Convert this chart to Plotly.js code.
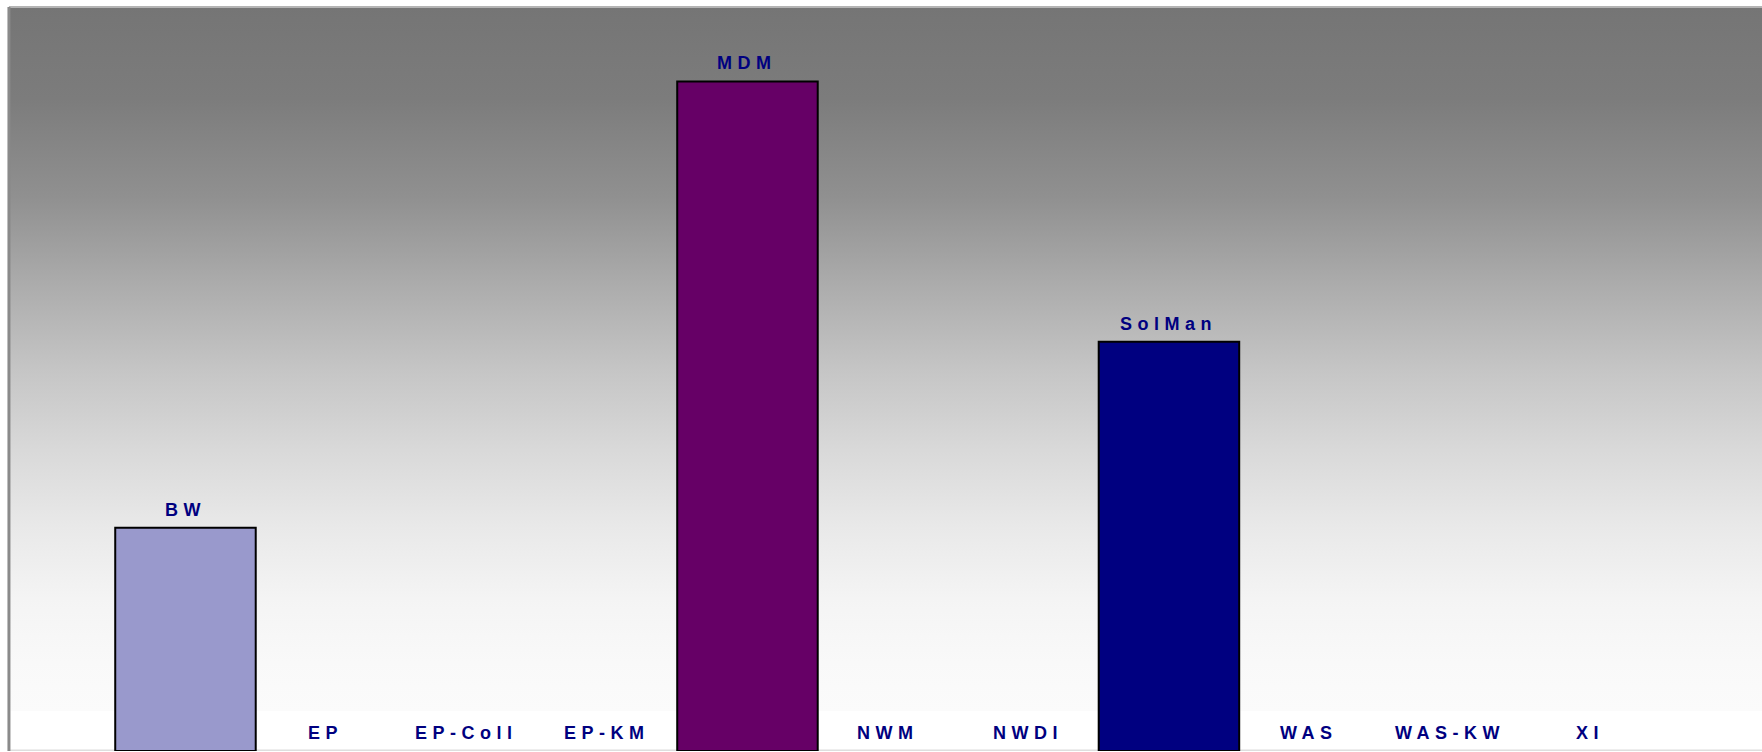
<!DOCTYPE html>
<html>
<head>
<meta charset="utf-8">
<script src="https://cdn.plot.ly/plotly-3.0.1.min.js"></script>
<style>
  html, body { margin: 0; padding: 0; background: #ffffff; overflow: hidden; }
  #chart { width: 1762px; height: 752px; }
  .annotation-text { letter-spacing: 5.5px; }
</style>
</head>
<body>
<div id="chart"></div>
<script>
// ---- data ----
var categories = ['BW', 'EP', 'EP-Coll', 'EP-KM', 'MDM', 'NWM', 'NWDI', 'SolMan', 'WAS', 'WAS-KW', 'XI'];
var values     = [3, 0, 0, 0, 9, 0, 0, 5.5, 0, 0, 0];
var barColors  = ['#9999CC', '#993366', '#FFFFCC', '#CCFFFF', '#660066', '#FF8080', '#0066CC', '#000080', '#CCCCFF', '#FF00FF', '#FFFF00'];

// ---- background gradient (style) ----
var gradStops = [
  [0.00, '#757575'], [0.13, '#7c7c7c'], [0.27, '#909090'], [0.40, '#adadad'],
  [0.52, '#c6c6c6'], [0.63, '#d9d9d9'], [0.74, '#e9e9e9'], [0.84, '#f4f4f4'],
  [0.93, '#f9f9f9'], [1.00, '#fbfbfb']
];
var W = 1752, H = 744, gradH = 704;
var stopsSvg = gradStops.map(function (s) {
  return '<stop offset="' + s[0] + '" stop-color="' + s[1] + '"/>';
}).join('');
var svg = '<svg xmlns="http://www.w3.org/2000/svg" width="' + W + '" height="' + H +
  '" viewBox="0 0 ' + W + ' ' + H + '" preserveAspectRatio="none">' +
  '<defs><linearGradient id="g" x1="0" y1="0" x2="0" y2="1">' + stopsSvg + '</linearGradient></defs>' +
  '<rect x="0" y="0" width="' + W + '" height="' + H + '" fill="#ffffff"/>' +
  '<rect x="0" y="0" width="' + W + '" height="' + gradH + '" fill="url(#g)"/>' +
  '<rect x="0" y="' + (H - 1.5) + '" width="' + W + '" height="1.5" fill="#dedede"/>' +
  '</svg>';
var bgUrl = 'data:image/svg+xml;base64,' + btoa(svg);

var trace = {
  type: 'bar',
  x: categories,
  y: values,
  marker: {
    color: barColors,
    line: { color: '#000000', width: values.map(function (v) { return v > 0 ? 2 : 0; }) }
  },
  hoverinfo: 'skip'
};

var annotations = categories.map(function (c, i) {
  return {
    x: c, y: values[i], xref: 'x', yref: 'y',
    text: c, showarrow: false,
    xanchor: 'center', yanchor: 'bottom', yshift: 6,
    font: { family: 'Liberation Sans, Arial, sans-serif', size: 18, color: '#000080', weight: 'bold' }
  };
});

var layout = {
  width: 1762, height: 752,
  margin: { l: 10, r: 0, t: 7, b: 1, pad: 0 },
  paper_bgcolor: '#ffffff',
  plot_bgcolor: 'rgba(0,0,0,0)',
  showlegend: false,
  bargap: 0,
  xaxis: {
    type: 'category', range: [-1.249, 11.221],
    showticklabels: false, showgrid: false, zeroline: false, showline: false, ticks: ''
  },
  yaxis: {
    range: [0, 10], showticklabels: false, showgrid: false, zeroline: false, showline: false, ticks: ''
  },
  images: [{
    source: bgUrl, xref: 'paper', yref: 'paper', x: 0, y: 1, sizex: 1, sizey: 1,
    xanchor: 'left', yanchor: 'top', sizing: 'stretch', layer: 'below'
  }],
  shapes: [
    { type: 'line', xref: 'paper', yref: 'paper', x0: -0.0006, x1: 1, y0: 1, y1: 1, line: { color: '#b4b4b4', width: 2 } },
    { type: 'line', xref: 'paper', yref: 'paper', x0: -0.0006, x1: -0.0006, y0: 0, y1: 1, line: { color: '#8a8a8a', width: 3 } }
  ],
  annotations: annotations,
  font: { family: 'Liberation Sans, Arial, sans-serif' }
};

Plotly.newPlot('chart', [trace], layout, { displayModeBar: false, staticPlot: true });
</script>
</body>
</html>
